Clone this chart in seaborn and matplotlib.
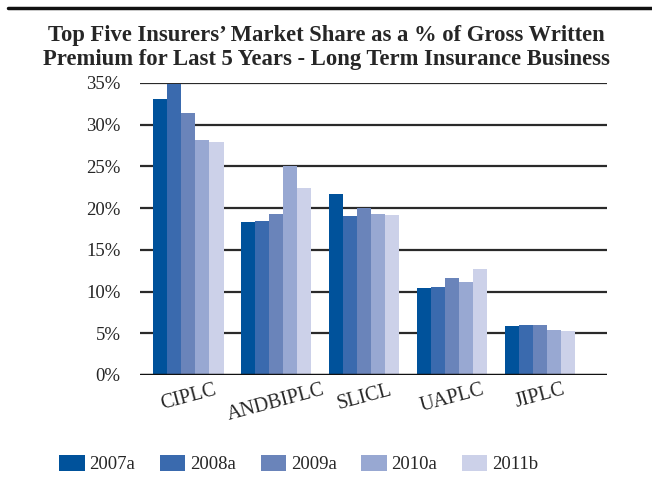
import pandas as pd
import matplotlib.pyplot as plt
import seaborn as sns
from matplotlib.lines import Line2D

insurers = ["CIPLC", "ANDBIPLC", "SLICL", "UAPLC", "JIPLC"]
years = ["2007a", "2008a", "2009a", "2010a", "2011b"]
share_2007 = [33.1, 18.3, 21.7, 10.4, 5.9]
share_2008 = [34.9, 18.5, 19.0, 10.5, 6.0]
share_2009 = [31.4, 19.3, 20.0, 11.6, 6.0]
share_2010 = [28.2, 25.0, 19.3, 11.1, 5.4]
share_2011 = [27.9, 22.4, 19.2, 12.7, 5.3]
colors = ["#00529b", "#3a6aae", "#6a84ba", "#98a8d2", "#ccd1e9"]

rows = []
for yr, vals in zip(years, [share_2007, share_2008, share_2009, share_2010, share_2011]):
    for ins, v in zip(insurers, vals):
        rows.append({"insurer": ins, "year": yr, "share": v})
df = pd.DataFrame(rows)

sns.set_style("white")
plt.rcParams["font.family"] = ["Liberation Serif", "DejaVu Serif"]

fig = plt.figure(figsize=(6.52, 4.82), dpi=100)
ax = fig.add_axes([0.2147, 0.222, 0.931 - 0.2147, 0.828 - 0.222])

# gridlines behind the bars
for t in range(5, 36, 5):
    ax.axhline(t, color="#2a2a2a", lw=1.6, zorder=0)
ax.axhline(0, color="#111111", lw=2.5, zorder=3)

sns.barplot(data=df, x="insurer", y="share", hue="year", palette=colors,
            width=0.8, saturation=1, linewidth=0, ax=ax, zorder=2, legend=True)

ax.set_ylim(0, 35)
ax.set_xlim(-0.55, 4.76)
ax.set_yticks(range(0, 36, 5))
ax.set_yticklabels([f"{t}%" for t in range(0, 36, 5)], fontsize=13.5)
ax.tick_params(axis="y", length=0, pad=14)
ax.tick_params(axis="x", length=0, pad=4)
ax.set_xticks(range(len(insurers)))
ax.set_xticklabels(insurers, fontsize=14.5, rotation=15, ha="center")
ax.set_xlabel("")
ax.set_ylabel("")
for s in ax.spines.values():
    s.set_visible(False)

leg = ax.legend(loc="upper center", bbox_to_anchor=(0.340, -0.215), ncol=5,
                frameon=False, fontsize=13.5, handlelength=1.35, handleheight=1.0,
                columnspacing=1.32, handletextpad=0.25)

fig.text(0.5, 0.927, "Top Five Insurers’ Market Share as a % of Gross Written",
         ha="center", va="center", fontsize=16.3, fontweight="bold")
fig.text(0.5, 0.877, "Premium for Last 5 Years - Long Term Insurance Business",
         ha="center", va="center", fontsize=16.3, fontweight="bold")
fig.add_artist(Line2D([0.012, 1.0], [0.983, 0.983], color="#111111", lw=2.5,
                      transform=fig.transFigure))

fig.savefig("out.png", dpi=100, facecolor="white")
